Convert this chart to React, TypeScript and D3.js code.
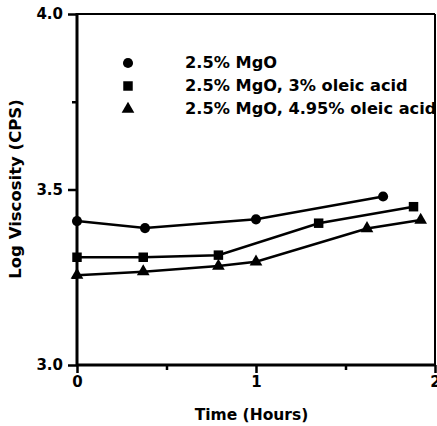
import React, { useEffect, useRef } from 'react';
import { select, scaleLinear, axisLeft, axisBottom, line, symbol, symbolCircle, symbolSquare, symbolTriangle } from 'd3';

const seriesNames = ['2.5% MgO', '2.5% MgO, 3% oleic acid', '2.5% MgO, 4.95% oleic acid'];

const mgoTimes = [0, 0.38, 1.0, 1.71];
const mgoValues = [3.41, 3.39, 3.415, 3.48];

const oleic3Times = [0, 0.37, 0.79, 1.35, 1.88];
const oleic3Values = [3.307, 3.307, 3.313, 3.404, 3.451];

const oleic495Times = [0, 0.37, 0.79, 1.0, 1.62, 1.92];
const oleic495Values = [3.256, 3.266, 3.282, 3.294, 3.389, 3.413];

const xMajorTicks = [0, 1, 2];
const xMinorTicks = [0.5, 1.5];
const yMajorTicks = [3.0, 3.5, 4.0];
const yMinorTicks = [3.25, 3.75];

const dims = { width: 437, height: 426, left: 77, right: 435, top: 14, bottom: 365 };
const font = '"DejaVu Sans", sans-serif';

const App: React.FC = () => {
  const svgRef = useRef<SVGSVGElement | null>(null);

  useEffect(() => {
    const svg = select(svgRef.current);
    svg.selectAll('*').remove();

    const x = scaleLinear().domain([0, 2]).range([dims.left, dims.right]);
    const y = scaleLinear().domain([3, 4]).range([dims.bottom, dims.top]);

    // frame
    svg.append('line').attr('x1', dims.left).attr('x2', dims.right).attr('y1', dims.top).attr('y2', dims.top)
      .attr('stroke', '#000').attr('stroke-width', 2);
    svg.append('line').attr('x1', dims.right).attr('x2', dims.right).attr('y1', dims.top).attr('y2', dims.bottom)
      .attr('stroke', '#000').attr('stroke-width', 2);

    const styleAxis = (g: any) => {
      g.select('.domain').remove();
      g.selectAll('line').attr('stroke', '#000').attr('stroke-width', 2.5);
      g.selectAll('text').attr('fill', '#000').attr('font-family', font).attr('font-weight', 'bold').attr('font-size', 15);
    };

    svg.append('g').attr('transform', `translate(${dims.left},0)`)
      .call(axisLeft(y).tickValues(yMajorTicks).tickFormat((d: any) => d.toFixed(1)).tickSize(9).tickPadding(5))
      .call(styleAxis);
    svg.append('g').attr('transform', `translate(${dims.left},0)`)
      .call(axisLeft(y).tickValues(yMinorTicks).tickFormat(() => '').tickSize(5))
      .call(styleAxis);
    svg.append('g').attr('transform', `translate(0,${dims.bottom})`)
      .call(axisBottom(x).tickValues(xMajorTicks).tickFormat((d: any) => `${d}`).tickSize(8).tickPadding(3))
      .call(styleAxis);
    svg.append('g').attr('transform', `translate(0,${dims.bottom})`)
      .call(axisBottom(x).tickValues(xMinorTicks).tickFormat(() => '').tickSize(5))
      .call(styleAxis);

    // axis lines
    svg.append('line').attr('x1', dims.left).attr('x2', dims.left).attr('y1', dims.top - 1).attr('y2', dims.bottom + 1)
      .attr('stroke', '#000').attr('stroke-width', 3);
    svg.append('line').attr('x1', dims.left - 1).attr('x2', dims.right).attr('y1', dims.bottom).attr('y2', dims.bottom)
      .attr('stroke', '#000').attr('stroke-width', 3);

    const series = [
      { times: mgoTimes, values: mgoValues, shape: symbolCircle, size: 80 },
      { times: oleic3Times, values: oleic3Values, shape: symbolSquare, size: 90 },
      { times: oleic495Times, values: oleic495Values, shape: symbolTriangle, size: 70 },
    ];

    const lineGen = line<[number, number]>().x(d => x(d[0])).y(d => y(d[1]));

    series.forEach(s => {
      const pts: [number, number][] = s.times.map((t, i) => [t, s.values[i]]);
      svg.append('path').attr('d', lineGen(pts)).attr('fill', 'none').attr('stroke', '#000').attr('stroke-width', 2.5);
      svg.append('g').selectAll('path').data(pts).enter().append('path')
        .attr('d', symbol(s.shape, s.size)())
        .attr('transform', d => `translate(${x(d[0])},${y(d[1])})`)
        .attr('fill', '#000');
    });

    // legend
    series.forEach((s, i) => {
      const ly = 63 + i * 23;
      svg.append('path').attr('d', symbol(s.shape, s.size)()).attr('transform', `translate(128,${ly})`).attr('fill', '#000');
      svg.append('text').attr('x', 185).attr('y', ly + 5).text(seriesNames[i])
        .attr('font-family', font).attr('font-weight', 'bold').attr('font-size', 16.2).attr('fill', '#000');
    });

    svg.append('text').attr('x', 251.5).attr('y', 420).attr('text-anchor', 'middle')
      .text('Time (Hours)').attr('font-family', font).attr('font-weight', 'bold').attr('font-size', 15.5);

    svg.append('text').attr('transform', `translate(21,189) rotate(-90)`).attr('text-anchor', 'middle')
      .text('Log Viscosity (CPS)').attr('font-family', font).attr('font-weight', 'bold').attr('font-size', 16.5);
  }, []);

  return (
    <div>
      <svg ref={svgRef} width={dims.width} height={dims.height}
        style={{ position: 'absolute', left: 0, top: 0, background: '#fff' }} />
    </div>
  );
};

export default App;
